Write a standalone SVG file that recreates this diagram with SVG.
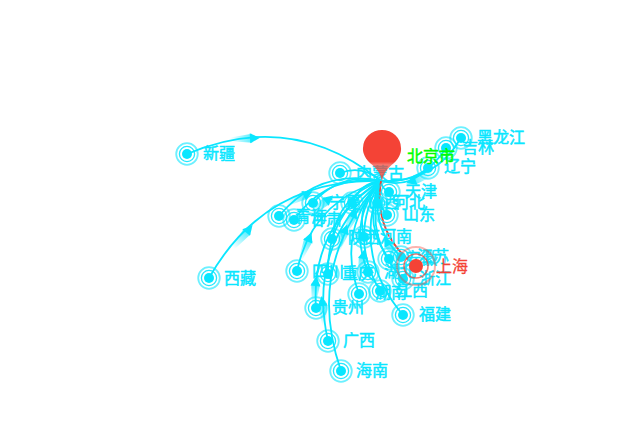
<svg xmlns="http://www.w3.org/2000/svg" width="632" height="447" viewBox="0 0 632 447">
<style>
.l{fill:none;stroke:#0ae6ff;stroke-width:1.8}
.c{fill:#0ae6ff}
.r1{fill:none;stroke:#0ae6ff;stroke-width:1.3;stroke-opacity:.9}
.r2{fill:none;stroke:#0ae6ff;stroke-width:1.8;stroke-opacity:.6}
text{font-family:"Noto Sans CJK SC","Noto Sans",sans-serif;font-size:16px;fill:#0ae6ff;stroke:#0ae6ff;stroke-width:.5}
</style>
<defs>
<linearGradient id="fade" gradientUnits="userSpaceOnUse" x1="-26" y1="0" x2="0" y2="0">
<stop offset="0" stop-color="#0ae6ff" stop-opacity="0"/>
<stop offset="1" stop-color="#0ae6ff" stop-opacity=".8"/>
</linearGradient>
<linearGradient id="pin" gradientUnits="userSpaceOnUse" x1="0" y1="130" x2="0" y2="181">
<stop offset=".62" stop-color="#f44336"/>
<stop offset=".68" stop-color="#f44336" stop-opacity=".72"/>
<stop offset="1" stop-color="#f44336" stop-opacity=".85"/>
</linearGradient>
<g id="trail">
<polygon points="-28,-1.5 -4,-4.5 -4,4.5 -28,1.5" fill="url(#fade)"/>
<polygon points="4,0 -6,-5 -6,5" fill="#0ae6ff"/>
</g>
<g id="dot">
<circle class="c" r="5"/><circle class="r1" r="7.6"/><circle class="r2" r="10.8"/>
</g>
</defs>
<rect width="632" height="447" fill="#fff"/>
<g id="connectors">
<path class="l" d="M187 154Q292 109.3 381 181"/>
<path class="l" d="M209 278Q265.9 177.9 381 181"/>
<path class="l" d="M340 173Q362.9 164.7 381 181"/>
<path class="l" d="M461 138Q433.9 183.5 381 181"/>
<path class="l" d="M446 148Q423.4 184 381 181"/>
<path class="l" d="M428 168Q408.4 188.6 381 181"/>
<path class="l" d="M389 192Q381.7 188.9 381 181"/>
<path class="l" d="M387 215Q373.8 199.8 381 181"/>
<path class="l" d="M377 203Q372.4 190.8 381 181"/>
<path class="l" d="M352 203Q359.9 183.3 381 181"/>
<path class="l" d="M313 203Q340.4 171.6 381 181"/>
<path class="l" d="M294 220Q325.8 174.4 381 181"/>
<path class="l" d="M279 216Q319.5 167.9 381 181"/>
<path class="l" d="M332 239Q339.1 195.3 381 181"/>
<path class="l" d="M364 237Q355.7 203.9 381 181"/>
<path class="l" d="M297 271Q312 200.8 381 181"/>
<path class="l" d="M328 274Q326.6 211.6 381 181"/>
<path class="l" d="M368 272Q347.2 222.6 381 181"/>
<path class="l" d="M359 294Q336.1 230.9 381 181"/>
<path class="l" d="M380 291Q347.5 235.7 381 181"/>
<path class="l" d="M389 259Q361.6 222.4 381 181"/>
<path class="l" d="M401 257Q368.2 225 381 181"/>
<path class="l" d="M403 279Q362.6 236.6 381 181"/>
<path class="l" d="M403 315Q351.8 254.6 381 181"/>
<path class="l" d="M316 308Q310.4 225 381 181"/>
<path class="l" d="M328 341Q306.5 245.1 381 181"/>
<path class="l" d="M341 371Q304 264 381 181"/>
<path d="M381 181Q373 234 416 266" fill="none" stroke="#f44336" stroke-width="1.8"/>
<use href="#trail" transform="translate(256,138) rotate(-3)"/>
<use href="#trail" transform="translate(250,228) rotate(-50)"/>
<use href="#trail" transform="translate(309,193) rotate(-27)"/>
<use href="#trail" transform="translate(310,236) rotate(-68)"/>
<use href="#trail" transform="translate(316,280) rotate(-85)"/>
<use href="#trail" transform="translate(322,300) rotate(-95)"/>
<use href="#trail" transform="translate(364,253) rotate(-80)"/>
<use href="#trail" transform="translate(346,228) rotate(-70)"/>
<use href="#trail" transform="translate(386,240) rotate(-120)"/>
<use href="#trail" transform="translate(330,198) rotate(-40)"/>
<use href="#trail" transform="translate(410,182) rotate(160)"/>
<use href="#trail" transform="translate(355,212) rotate(-65)"/>
</g>
<g id="xinjiang"><use href="#dot" x="187" y="154"/><text x="203" y="159">新疆</text></g>
<g id="xizang"><use href="#dot" x="209" y="278"/><text x="224" y="284">西藏</text></g>
<g id="neimenggu"><use href="#dot" x="340" y="173"/><text x="356" y="179">内蒙古</text></g>
<g id="heilongjiang"><use href="#dot" x="461" y="138"/><text x="477" y="143">黑龙江</text></g>
<g id="jilin"><use href="#dot" x="446" y="148"/><text x="462" y="153">吉林</text></g>
<g id="liaoning"><use href="#dot" x="428" y="168"/><text x="444" y="172">辽宁</text></g>
<g id="tianjin"><use href="#dot" x="389" y="192"/><text x="405" y="197">天津</text></g>
<g id="shandong"><use href="#dot" x="387" y="215"/><text x="403" y="220">山东</text></g>
<g id="hebei"><use href="#dot" x="377" y="203"/><text x="393" y="208">河北</text></g>
<g id="shanxi"><use href="#dot" x="352" y="203"/><text x="368" y="208">山西</text></g>
<g id="ningxia"><use href="#dot" x="313" y="203"/><text x="329" y="208">宁夏</text></g>
<g id="gansu"><use href="#dot" x="294" y="220"/><text x="310" y="225">甘肃</text></g>
<g id="qinghai"><use href="#dot" x="279" y="216"/><text x="295" y="222">青海</text></g>
<g id="shaanxi"><use href="#dot" x="332" y="239"/><text x="348" y="243">陕西</text></g>
<g id="henan"><use href="#dot" x="364" y="237"/><text x="380" y="242">河南</text></g>
<g id="sichuan"><use href="#dot" x="297" y="271"/><text x="312" y="277">四川</text></g>
<g id="chongqing"><use href="#dot" x="328" y="274"/><text x="342" y="279">重庆</text></g>
<g id="hubei"><use href="#dot" x="368" y="272"/><text x="384" y="277">湖北</text></g>
<g id="hunan"><use href="#dot" x="359" y="294"/><text x="375" y="298">湖南</text></g>
<g id="jiangxi"><use href="#dot" x="380" y="291"/><text x="396" y="296">江西</text></g>
<g id="anhui"><use href="#dot" x="389" y="259"/><text x="405" y="264">安徽</text></g>
<g id="jiangsu"><use href="#dot" x="401" y="257"/><text x="417" y="262">江苏</text></g>
<g id="zhejiang"><use href="#dot" x="403" y="279"/><text x="419" y="284">浙江</text></g>
<g id="fujian"><use href="#dot" x="403" y="315"/><text x="419" y="320">福建</text></g>
<g id="guizhou"><use href="#dot" x="316" y="308"/><text x="332" y="313">贵州</text></g>
<g id="guangxi"><use href="#dot" x="328" y="341"/><text x="343" y="346">广西</text></g>
<g id="hainan"><use href="#dot" x="341" y="371"/><text x="356" y="376">海南</text></g>
<g id="shanghai">
<circle cx="416" cy="266" r="7" fill="#f44336"/>
<circle cx="416" cy="266" r="12" fill="none" stroke="#f44336" stroke-width="1.6" stroke-opacity=".7"/>
<circle cx="416" cy="266" r="19" fill="none" stroke="#f44336" stroke-width="2" stroke-opacity=".4"/>
<text x="436" y="272" style="fill:#f44336;stroke:#f44336;stroke-width:.3">上海</text>
</g>
<g id="beijing">
<path d="M382 181C380 170 374 167 368 161C362 154 363 148 363 148A19 18 0 1 1 401 148C401 148 402 154 396 161C390 167 384 170 382 181Z" fill="url(#pin)"/>
<text x="407" y="162" style="fill:#0f0;stroke:#0f0">北京市</text>
</g>
</svg>
